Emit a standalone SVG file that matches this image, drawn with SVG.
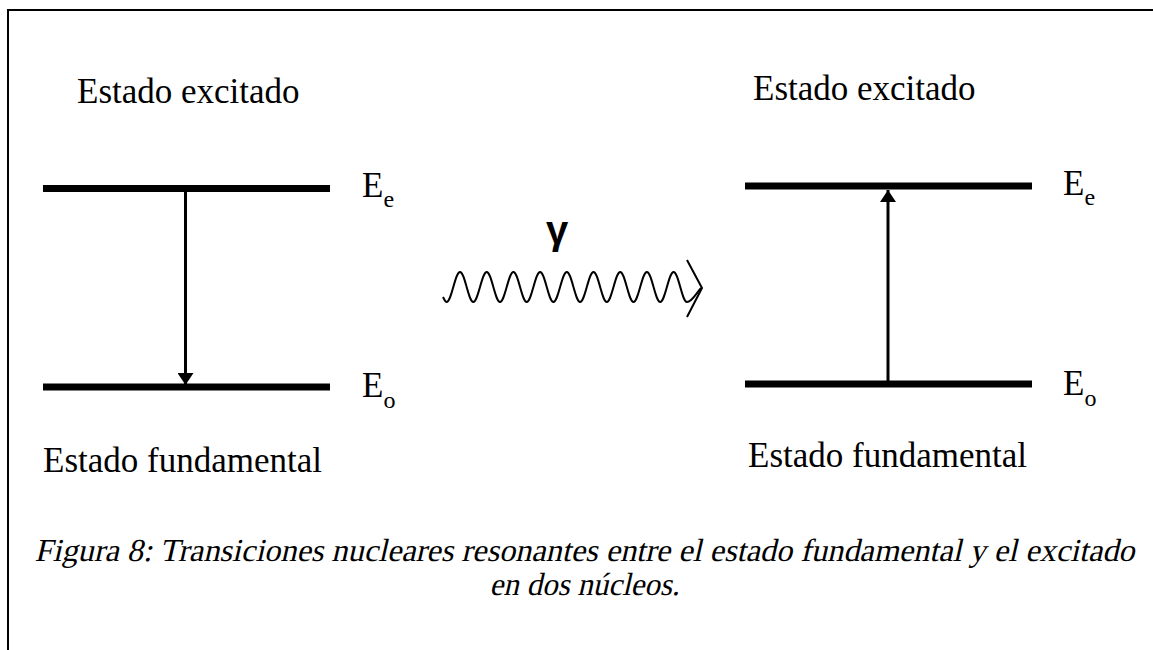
<svg xmlns="http://www.w3.org/2000/svg" width="1153" height="650" viewBox="0 0 1153 650">
  <defs>
    <style>
      .lbl { font-family: "Liberation Serif", "DejaVu Serif", serif; font-size: 35px; fill: #000; }
      .sub { font-size: 24px; }
      .cap { font-family: "Liberation Serif", "DejaVu Serif", serif; font-size: 32px; fill: #000; text-anchor: middle; }
      .level { stroke: #000; stroke-width: 7; fill: none; }
      .shaft { stroke: #000; stroke-width: 3; fill: none; }
      .wave { stroke: #000; stroke-width: 2; fill: none; }
    </style>
    <marker id="head" viewBox="0 0 12 16" refX="12" refY="8" markerWidth="12" markerHeight="16" markerUnits="userSpaceOnUse" orient="auto">
      <path d="M0,0 L12,8 L0,16 Z" fill="#000"/>
    </marker>
  </defs>
  <rect width="1153" height="650" fill="#fff"/>
  <path d="M8,650 L8,10 L1153,10" stroke="#000" stroke-width="2" fill="none"/>

  <g id="left-nucleus">
    <text class="lbl" x="77" y="103">Estado excitado</text>
    <line class="level" x1="43" y1="188.5" x2="330" y2="188.5"/>
    <line class="level" x1="43" y1="387" x2="330" y2="387"/>
    <text class="lbl" x="362" y="197">E<tspan class="sub" dy="10">e</tspan></text>
    <text class="lbl" x="362" y="397">E<tspan class="sub" dy="11">o</tspan></text>
    <text class="lbl" x="43" y="472">Estado fundamental</text>
  </g>

  <g id="right-nucleus">
    <text class="lbl" x="753" y="100">Estado excitado</text>
    <line class="level" x1="745" y1="186" x2="1032" y2="186"/>
    <line class="level" x1="745" y1="384" x2="1032" y2="384"/>
    <text class="lbl" x="1063" y="195">E<tspan class="sub" dy="10">e</tspan></text>
    <text class="lbl" x="1063" y="395">E<tspan class="sub" dy="11">o</tspan></text>
    <text class="lbl" x="748" y="467">Estado fundamental</text>
  </g>

  <g id="photon">
    <text x="557" y="244" font-family="Liberation Sans, Arial, sans-serif" font-weight="bold" font-size="40" text-anchor="middle">γ</text>
  </g>

  <g id="connectors">
    <line class="shaft" x1="185.5" y1="192" x2="185.5" y2="385" marker-end="url(#head)"/>
    <line class="shaft" x1="888" y1="381" x2="888" y2="190" marker-end="url(#head)"/>
    <path class="wave" d="M443,297 C444.5,300 445.3,302 446.6,302 C451.5,302 455.1,272 460,272 C464.9,272 468.4,302 473.3,302 C478.2,302 481.8,272 486.7,272 C491.6,272 495.1,302 500,302 C504.9,302 508.5,272 513.4,272 C518.3,272 521.8,302 526.7,302 C531.6,302 535.2,272 540.1,272 C545,272 548.5,302 553.4,302 C558.3,302 561.9,272 566.8,272 C571.7,272 575.2,302 580.1,302 C585,302 588.6,272 593.5,272 C598.4,272 601.9,302 606.8,302 C611.7,302 615.3,272 620.2,272 C625.1,272 628.6,302 633.5,302 C638.4,302 642,272 646.9,272 C651.8,272 655.3,302 660.2,302 C665.1,302 668.7,272 673.6,272 C678.5,272 682,302 686.9,302 C692,302 697,292 701,288"/>
    <polyline class="wave" points="687,260 702,288 687,317"/>
  </g>

  <g id="caption">
    <text class="cap" transform="translate(584.5,561) skewX(-13)" x="0" y="0" textLength="1100" lengthAdjust="spacingAndGlyphs">Figura 8: Transiciones nucleares resonantes entre el estado fundamental y el excitado</text>
    <text class="cap" transform="translate(584.5,595) skewX(-13)" x="0" y="0" textLength="190" lengthAdjust="spacingAndGlyphs">en dos núcleos.</text>
  </g>
</svg>
